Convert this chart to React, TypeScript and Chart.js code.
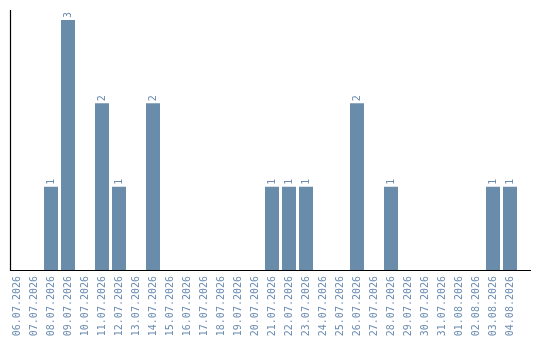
import React, { useEffect, useRef } from "react";
import { Chart, registerables } from "chart.js";

Chart.register(...registerables);

const dates = [
  "06.07.2026", "07.07.2026", "08.07.2026", "09.07.2026", "10.07.2026",
  "11.07.2026", "12.07.2026", "13.07.2026", "14.07.2026", "15.07.2026",
  "16.07.2026", "17.07.2026", "18.07.2026", "19.07.2026", "20.07.2026",
  "21.07.2026", "22.07.2026", "23.07.2026", "24.07.2026", "25.07.2026",
  "26.07.2026", "27.07.2026", "28.07.2026", "29.07.2026", "30.07.2026",
  "31.07.2026", "01.08.2026", "02.08.2026", "03.08.2026", "04.08.2026",
];

const counts = [
  0, 0, 1, 3, 0,
  2, 1, 0, 2, 0,
  0, 0, 0, 0, 0,
  1, 1, 1, 0, 0,
  2, 0, 1, 0, 0,
  0, 0, 0, 1, 1,
];

const BAR_COLOR = "#6a8cab";
const TEXT_COLOR = "#6b8cb0";
const FONT = "DejaVu Sans Mono";

// Axis lines drawn by hand so the x line can run past the last category
const axisLines = {
  id: "axisLines",
  afterDatasetsDraw(chart: any) {
    const { ctx, chartArea } = chart;
    ctx.save();
    ctx.strokeStyle = "#000";
    ctx.lineWidth = 1.2;
    ctx.beginPath();
    ctx.moveTo(10.5, 10);
    ctx.lineTo(10.5, chartArea.bottom + 0.5);
    ctx.lineTo(531, chartArea.bottom + 0.5);
    ctx.stroke();
    ctx.restore();
  },
};

// Vertical value labels above each non-zero bar
const valueLabels = {
  id: "valueLabels",
  afterDatasetsDraw(chart: any) {
    const { ctx } = chart;
    const meta = chart.getDatasetMeta(0);
    ctx.save();
    ctx.fillStyle = TEXT_COLOR;
    ctx.font = `10px "${FONT}"`;
    ctx.textAlign = "left";
    ctx.textBaseline = "middle";
    meta.data.forEach((bar: any, i: number) => {
      const v = counts[i];
      if (!v) return;
      ctx.save();
      ctx.translate(bar.x, bar.y - 2);
      ctx.rotate(-Math.PI / 2);
      ctx.fillText(String(v), 0, 0);
      ctx.restore();
    });
    ctx.restore();
  },
};

export default function App() {
  const ref = useRef<HTMLCanvasElement>(null);

  useEffect(() => {
    if (!ref.current) return;
    const chart = new Chart(ref.current, {
      type: "bar",
      data: {
        labels: dates,
        datasets: [
          {
            data: counts,
            backgroundColor: BAR_COLOR,
            barPercentage: 14 / 17,
            categoryPercentage: 1,
          },
        ],
      },
      options: {
        animation: false,
        responsive: false,
        maintainAspectRatio: false,
        layout: { padding: { left: 8.5, right: 21.5, top: 20, bottom: 0 } },
        plugins: { legend: { display: false }, tooltip: { enabled: false } },
        scales: {
          x: {
            offset: true,
            grid: { display: false, drawTicks: false },
            border: { display: false },
            ticks: {
              autoSkip: false,
              minRotation: 90,
              maxRotation: 90,
              padding: 6,
              color: TEXT_COLOR,
              font: { family: FONT, size: 10 },
            },
            afterFit(scale: any) {
              scale.height = 70;
            },
          },
          y: {
            display: false,
            min: 0,
            max: 3,
          },
        },
      },
      plugins: [axisLines, valueLabels],
    });
    return () => chart.destroy();
  }, []);

  return (
    <div style={{ position: "fixed", left: 0, top: 0, width: 540, height: 340, background: "#fff" }}>
      <canvas ref={ref} width={540} height={340} style={{ display: "block" }} />
    </div>
  );
}
